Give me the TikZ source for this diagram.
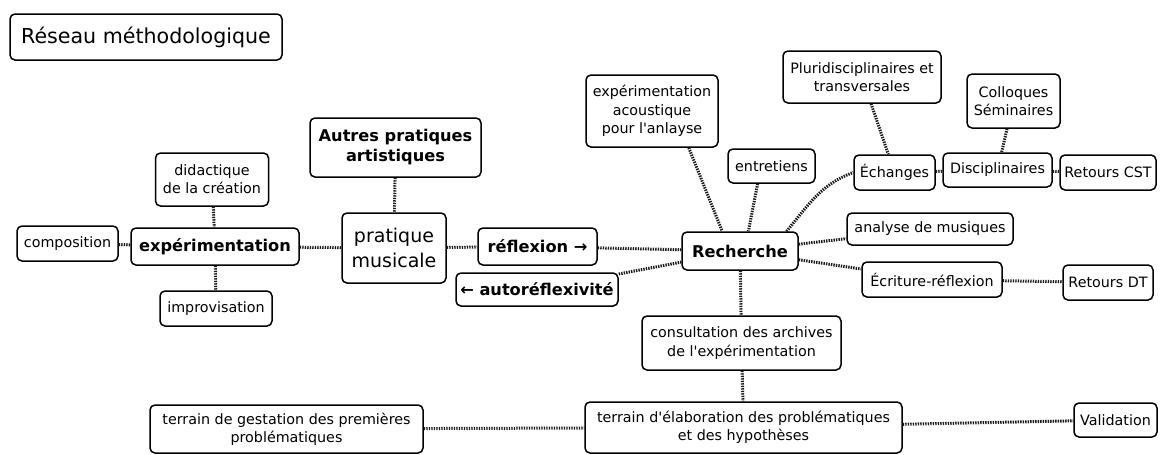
\documentclass[tikz,border=0pt]{standalone}
\usepackage{fontspec}
\setmainfont{DejaVu Sans}
\usepackage{tikz}
\usetikzlibrary{positioning}

\newcommand{\txt}{\fontsize{14.3}{18.3}\selectfont}
\newcommand{\btxt}{\fontsize{16.2}{20}\selectfont\bfseries}

\begin{document}
\begin{tikzpicture}[
  x=1pt, y=1pt,
  box/.style={draw, rounded corners=5pt, line width=1.5pt, align=center, inner sep=1pt, font=\txt},
  hl/.style={box, font=\btxt},
  link/.style={line width=3pt, dash pattern=on 1.4pt off 1.1pt, black!90}
]
\useasboundingbox (0,0) rectangle (1163,-455);

\node[box, minimum width=272, minimum height=46, font=\fontsize{20.6}{24}\selectfont] (titre) at (146,-37) {Réseau méthodologique};

% pratique
\node[box, minimum width=113, minimum height=53] (didac) at (212,-179.5) {didactique\\de la création};
\node[hl, minimum width=171, minimum height=59] (autres) at (395.5,-147.5) {Autres pratiques\\artistiques};
\node[box, minimum width=101, minimum height=35] (compo) at (67.5,-243.5) {composition};
\node[hl, minimum width=168, minimum height=37] (exper) at (215,-246.5) {expérimentation};
\node[box, minimum width=112, minimum height=35] (improv) at (216,-308.5) {improvisation};
\node[box, minimum width=104, minimum height=70, font=\fontsize{19}{25}\selectfont] (pratique) at (394,-248) {pratique\\musicale};
\node[hl, minimum width=119, minimum height=37] (reflex) at (537.5,-246.5) {réflexion →};
\node[hl, minimum width=162, minimum height=33] (autoref) at (537,-289.5) {← autoréflexivité};

% recherche
\node[hl, minimum width=116, minimum height=38] (rech) at (740,-251) {Recherche};
\node[box, minimum width=132, minimum height=72] (acoust) at (652,-111) {expérimentation\\acoustique\\pour l\textquotesingle anlayse};
\node[box, minimum width=87, minimum height=34] (entret) at (771.5,-166) {entretiens};
\node[box, minimum width=158, minimum height=52] (pluri) at (862,-77) {Pluridisciplinaires et\\transversales};
\node[box, minimum width=93, minimum height=54] (colloq) at (1013.5,-101) {Colloques\\Séminaires};
\node[box, minimum width=81, minimum height=35] (echang) at (894.5,-172.5) {Échanges};
\node[box, minimum width=109, minimum height=34] (discip) at (997.5,-170) {Disciplinaires};
\node[box, minimum width=96, minimum height=35] (cst) at (1108,-172.5) {Retours CST};
\node[box, minimum width=166, minimum height=32] (analyse) at (930,-229) {analyse de musiques};
\node[box, minimum width=140, minimum height=35] (ecrit) at (932,-279.5) {Écriture-réflexion};
\node[box, minimum width=90, minimum height=35] (retdt) at (1108,-282.5) {Retours DT};

% terrain
\node[box, minimum width=199, minimum height=54] (consult) at (741.5,-343) {consultation des archives\\de l\textquotesingle expérimentation};
\node[box, minimum width=317, minimum height=51] (elab) at (743.5,-427.5) {terrain d\textquotesingle élaboration des problématiques\\et des hypothèses};
\node[box, minimum width=273, minimum height=48] (gest) at (286.5,-429) {terrain de gestation des premières\\problématiques};
\node[box, minimum width=83, minimum height=34] (valid) at (1115.5,-420) {Validation};

\draw[link] (didac) -- (exper);
\draw[link] (compo) -- (exper);
\draw[link] (exper) -- (improv);
\draw[link] (exper) -- (pratique);
\draw[link] (autres) -- (pratique);
\draw[link] (pratique) -- (reflex);
\draw[link] (reflex) -- (rech);
\draw[link] (autoref) -- (rech);
\draw[link] (acoust.-45) -- (rech.132);
\draw[link] (entret.-128) -- (rech.67);
\draw[link] (rech.23) to[out=50, in=200] (echang.west);
\draw[link] (rech) -- (analyse);
\draw[link] (rech) -- (ecrit);
\draw[link] (ecrit) -- (retdt);
\draw[link] (pluri) -- (echang);
\draw[link] (echang) -- (discip);
\draw[link] (colloq) -- (discip);
\draw[link] (discip) -- (cst);
\draw[link] (rech) -- (consult);
\draw[link] (consult) -- (elab);
\draw[link] (gest) -- (elab);
\draw[link] (elab) -- (valid);
\end{tikzpicture}
\end{document}
